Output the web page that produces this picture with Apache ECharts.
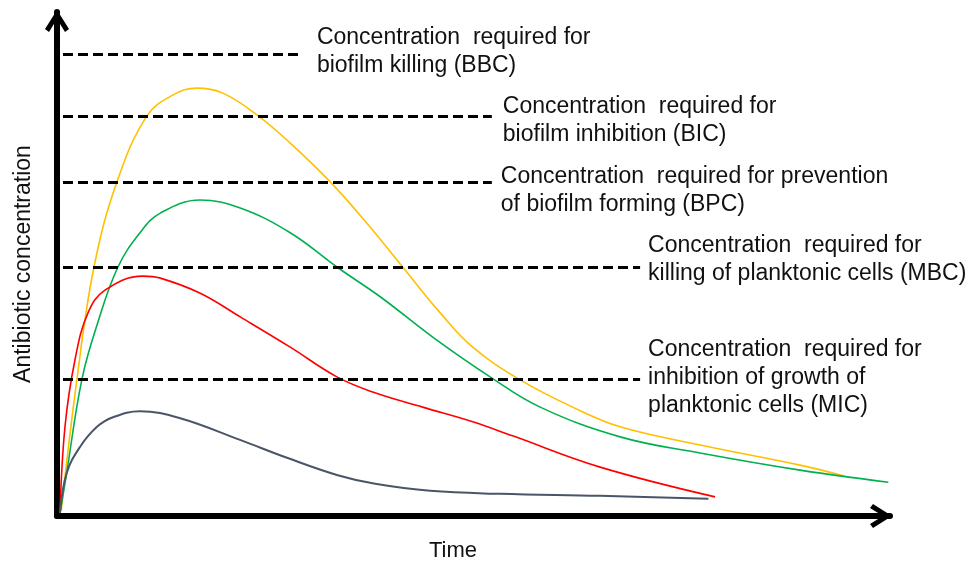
<!DOCTYPE html>
<html>
<head>
<meta charset="utf-8">
<title>Antibiotic concentration</title>
<script src="https://cdn.jsdelivr.net/npm/echarts@6/dist/echarts.min.js"></script>
<style>
  html, body { margin: 0; padding: 0; background: #fff; }
  #chart { width: 973px; height: 561px; }
</style>
</head>
<body>
<div id="chart"></div>
<script>
  // curves: [time, concentration], both on a 0-100 scale
  let yellowCurve = [
    [0.5, 1.0], [2.4, 27.2], [4.44, 49.4], [7.2, 66.3], [10.8, 79.4], [13.9, 83.5],
    [16.8, 84.9], [19.9, 83.9], [24.0, 79.6], [28.0, 74.0], [32.8, 66.3], [37.2, 58.1],
    [41.5, 49.4], [46.0, 40.3], [49.9, 33.5], [55.6, 27.0], [61.9, 21.6], [67.6, 17.7],
    [77.2, 14.1], [89.2, 10.1], [94.6, 7.9]
  ];
  let greenCurve = [
    [0.36, 0.6], [1.08, 7.7], [3.0, 27.2], [4.92, 38.5], [7.32, 49.4], [9.96, 56.2],
    [12.4, 60.1], [17.2, 62.7], [22.0, 61.1], [28.0, 56.2], [33.6, 49.4], [38.8, 43.5],
    [45.1, 35.5], [52.0, 27.6], [58.0, 21.6], [67.6, 15.7], [77.2, 12.5], [89.2, 9.1],
    [99.8, 6.7]
  ];
  let redCurve = [
    [0.36, 0.6], [0.96, 17.7], [2.16, 31.0], [3.72, 40.3], [5.76, 44.8], [10.3, 47.6],
    [12.4, 47.2], [17.2, 44.2], [22.0, 39.5], [28.0, 33.5], [33.6, 27.6], [37.9, 24.6],
    [43.9, 21.6], [49.9, 18.7], [54.7, 15.9], [65.2, 9.7], [79.0, 3.8]
  ];
  let greyCurve = [
    [0.36, 0.6], [1.16, 8.5], [2.76, 13.7], [4.8, 17.7], [6.72, 19.6], [9.96, 20.8],
    [14.8, 19.4], [21.97, 15.1], [27.7, 11.5], [33.7, 8.1], [38.2, 6.4], [44.8, 5.0],
    [53.2, 4.4], [65.2, 4.0], [78.2, 3.4]
  ];

  // dashed threshold lines
  let thresholdLevels = [91.7, 79.4, 66.3, 49.4, 27.2];
  let thresholdStart = 0.72;
  let thresholdEnds = [29.4, 52.2, 52.2, 70.0, 70.0];
  let thresholdLabels = [
    'Concentration  required for\nbiofilm killing (BBC)',
    'Concentration  required for\nbiofilm inhibition (BIC)',
    'Concentration  required for prevention\nof biofilm forming (BPC)',
    'Concentration  required for\nkilling of planktonic cells (MBC)',
    'Concentration  required for\ninhibition of growth of\nplanktonic cells (MIC)'
  ];
  let labelGaps = [15, 11, 9, 8, 8];
  let labelShifts = [-2, 5, 9, -7, -1];

  let chart = echarts.init(document.getElementById('chart'));

  let chevron = 'path://M12,0 L24,19 L20,22 L12,9 L4,22 L0,19 Z';
  let axisCommon = {
    type: 'value',
    min: 0,
    max: 100,
    splitLine: { show: false },
    axisTick: { show: false },
    axisLabel: { show: false },
    axisLine: {
      show: true,
      symbol: ['none', chevron],
      symbolSize: [24, 22],
      symbolOffset: [0, -9],
      lineStyle: { color: '#000', width: 6 }
    }
  };

  let markData = thresholdLevels.map((lv, i) => {
    return [
      {
        coord: [thresholdStart, lv],
        label: { formatter: thresholdLabels[i], distance: labelGaps[i], offset: [0, labelShifts[i]] }
      },
      { coord: [thresholdEnds[i], lv] }
    ];
  });

  let curveSeries = (name, data, color, width) => {
    return {
      name: name,
      type: 'line',
      data: data,
      smooth: 0.4,
      showSymbol: false,
      lineStyle: { color: color, width: width },
      z: 3
    };
  };

  let option = {
    animation: false,
    grid: {
      left: 57,
      right: 83,
      top: 12,
      bottom: 45,
      containLabel: false,
      outerBoundsMode: 'none'
    },
    xAxis: Object.assign({}, axisCommon, {
      name: 'Time',
      nameLocation: 'middle',
      nameGap: 24,
      nameTextStyle: { fontFamily: 'Liberation Sans', fontSize: 22, color: '#111', padding: [0, 41, 0, 0] },
      axisLine: Object.assign({}, axisCommon.axisLine)
    }),
    yAxis: Object.assign({}, axisCommon, {
      name: 'Antibiotic concentration',
      nameLocation: 'middle',
      nameGap: 22,
      nameTextStyle: { fontFamily: 'Liberation Sans', fontSize: 23, color: '#111' },
      axisLine: Object.assign({}, axisCommon.axisLine)
    }),
    series: [
      curveSeries('yellow', yellowCurve, '#FFC000', 1.6),
      curveSeries('green', greenCurve, '#00B050', 1.6),
      curveSeries('red', redCurve, '#FF0000', 1.6),
      curveSeries('grey', greyCurve, '#4A5568', 2),
      {
        name: 'thresholds',
        type: 'line',
        data: [],
        markLine: {
          silent: true,
          symbol: ['none', 'none'],
          lineStyle: { color: '#000', width: 3, type: [10, 5] },
          label: {
            show: true,
            position: 'end',
            color: '#111',
            fontFamily: 'Liberation Sans',
            fontSize: 23,
            lineHeight: 28,
            align: 'left'
          },
          data: markData
        }
      }
    ]
  };

  chart.setOption(option);
</script>
</body>
</html>
